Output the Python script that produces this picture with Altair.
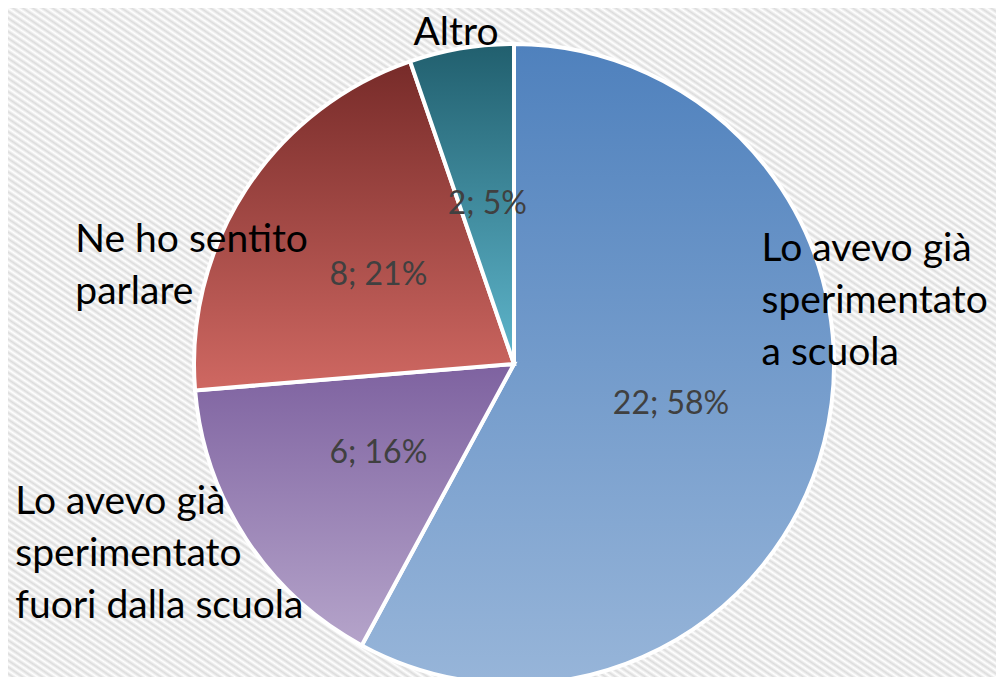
import altair as alt
import pandas as pd

# ---- data ----
categories = [
    "Lo avevo già\nsperimentato\na scuola",
    "Lo avevo già\nsperimentato\nfuori dalla scuola",
    "Ne ho sentito\nparlare",
    "Altro",
]
values = [22, 6, 8, 2]
order = [1, 2, 3, 4]

df = pd.DataFrame({"cat": categories, "value": values, "ord": order})

W, H = 988, 669
CX, CY = 506, 356
R = 320

# gradient colours per slice (top -> bottom)
grad_colors = [
    ("#4F81BD", "#97B5D9"),
    ("#7E62A0", "#B5A4CA"),
    ("#772B29", "#CF6862"),
    ("#215F6E", "#5FB6CC"),
]
# label offsets (style)
label_style = [
    dict(align="left", dx=-82, dy=-198),
    dict(align="left", dx=-214, dy=-48),
    dict(align="left", dx=-154, dy=62),
    dict(align="center", dx=-2, dy=4),
]


def grad(c0, c1):
    return alt.Gradient(
        gradient="linear",
        stops=[alt.GradientStop(color=c0, offset=0), alt.GradientStop(color=c1, offset=1)],
        x1=0, x2=0, y1=0, y2=1,
    )


# background stripes gradient (decoration)
n_stripes = 200
bg_stops = []
for i in range(2 * n_stripes + 1):
    bg_stops.append(
        alt.GradientStop(color="#FFFFFF" if i % 2 == 0 else "#DCDCDC", offset=i / (2 * n_stripes))
    )
bg_grad = alt.Gradient(gradient="linear", stops=bg_stops, x1=0, y1=1, x2=1, y2=0)

bg = alt.Chart(pd.DataFrame({"a": [0]})).mark_rect(fill=bg_grad).encode(
    x=alt.value(0), x2=alt.value(W), y=alt.value(0), y2=alt.value(H)
)

base = (
    alt.Chart(df)
    .transform_joinaggregate(total="sum(value)")
    .transform_window(cum="sum(value)", sort=[alt.SortField("ord")], frame=[None, 0])
    .transform_calculate(
        f0="(datum.cum - datum.value) / datum.total",
        f1="datum.cum / datum.total",
        fm="(datum.cum - datum.value / 2) / datum.total",
        lab="datum.value + '; ' + round(datum.value / datum.total * 100) + '%'",
    )
)

theta_scale = alt.Scale(domain=[0, 1])

arcs = []
dlabels = []
clabels = []
for i, cat in enumerate(categories):
    sub = base.transform_filter(alt.datum.cat == cat)
    c0, c1 = grad_colors[i]
    arcs.append(
        sub.mark_arc(radius=R, fill=grad(c0, c1), stroke="white", strokeWidth=4).encode(
            theta=alt.Theta("f0:Q", scale=theta_scale),
            theta2="f1:Q",
            x=alt.value(CX),
            y=alt.value(CY),
        )
    )
    dlabels.append(
        sub.mark_text(
            radius=162, font="Lato", fontSize=32, color="#404040", align="center", baseline="middle"
        ).encode(
            theta=alt.Theta("fm:Q", scale=theta_scale),
            x=alt.value(CX),
            y=alt.value(CY),
            text="lab:N",
        )
    )
    st = label_style[i]
    clabels.append(
        sub.mark_text(
            radius=340, font="Lato", fontSize=39, color="#000000", baseline="middle",
            lineBreak="\n", lineHeight=52, align=st["align"], dx=st["dx"], dy=st["dy"],
        ).encode(
            theta=alt.Theta("fm:Q", scale=theta_scale),
            x=alt.value(CX),
            y=alt.value(CY),
            text="cat:N",
        )
    )

chart = (
    alt.layer(bg, *arcs, *dlabels, *clabels)
    .properties(width=W, height=H, autosize=alt.AutoSizeParams(type="none"), padding=0)
    .configure_view(stroke=None)
)

chart.save("out.html", embed_options={"renderer": "svg", "actions": False})
